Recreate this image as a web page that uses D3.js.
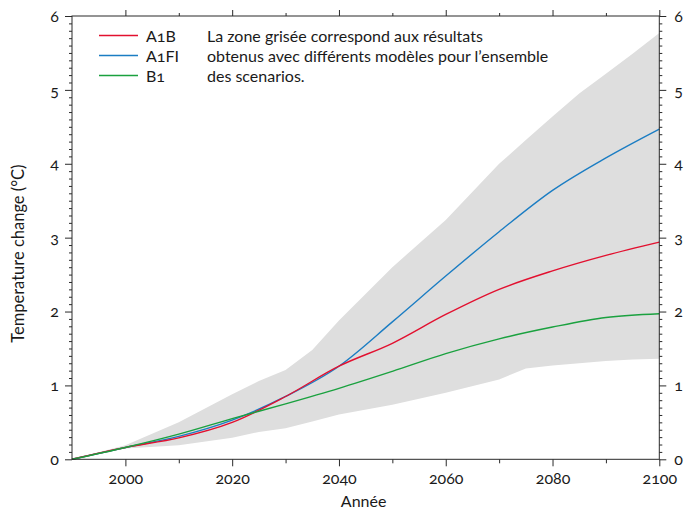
<!DOCTYPE html>
<html>
<head>
<meta charset="utf-8">
<script src="https://cdn.jsdelivr.net/npm/d3@7"></script>
<style>
  body { margin: 0; background: #fff; }
  text { font-family: Lato, "Open Sans", sans-serif; fill: #1a1a1a; font-variant-numeric: oldstyle-nums; }
</style>
</head>
<body>
<svg id="chart" width="698" height="512"></svg>
<script>
// Projected global mean temperature change (°C) per SRES scenario
const years = [1990, 2000, 2010, 2020, 2030, 2040, 2050, 2060, 2070, 2080, 2090, 2100];
const a1b  = [0, 0.16, 0.29, 0.50, 0.85, 1.26, 1.57, 1.96, 2.30, 2.55, 2.76, 2.94];
const a1fi = [0, 0.16, 0.31, 0.53, 0.85, 1.26, 1.86, 2.48, 3.08, 3.64, 4.08, 4.47];
const b1   = [0, 0.16, 0.34, 0.55, 0.75, 0.96, 1.19, 1.43, 1.63, 1.79, 1.92, 1.97];

// Envelope of all models and scenarios
const bandYears = [1990, 2000, 2010, 2020, 2025, 2030, 2035, 2040, 2050, 2060, 2070, 2075, 2080, 2085, 2090, 2095, 2100];
const bandUpper = [0, 0.19, 0.50, 0.88, 1.06, 1.21, 1.48, 1.88, 2.60, 3.24, 4.00, 4.32, 4.64, 4.95, 5.22, 5.49, 5.77];
const bandLower = [0, 0.145, 0.19, 0.29, 0.37, 0.42, 0.51, 0.605, 0.74, 0.90, 1.08, 1.23, 1.27, 1.30, 1.33, 1.35, 1.36];

const seriesNames = ["A1B", "A1FI", "B1"];
const seriesColors = ["#e2102f", "#1b7dc3", "#1aa13f"];
const xMajorTicks = [2000, 2020, 2040, 2060, 2080, 2100];
const xMinorTicks = [2010, 2030, 2050, 2070, 2090];
const yMajorTicks = [0, 1, 2, 3, 4, 5, 6];
const noteLines = [
  "La zone grisée correspond aux résultats",
  "obtenus avec différents modèles pour l’ensemble",
  "des scenarios."
];

const svg = d3.select("#chart");
const x = d3.scaleLinear().domain([1990, 2100]).range([72, 659.3]);
const y = d3.scaleLinear().domain([0, 6]).range([459.3, 16]);
const [x0, x1] = x.range();
const [yB, yT] = y.range();

const yMinorTicks = d3.range(1, 60).filter(i => i % 10 !== 0).map(i => i / 10);

// shaded envelope
const band = bandYears.map((yr, i) => ({ yr, lo: bandLower[i], hi: bandUpper[i] }));
svg.append("path")
  .datum(band)
  .attr("fill", "#dedede")
  .attr("d", d3.area().x(d => x(d.yr)).y0(d => y(d.lo)).y1(d => y(d.hi)));

// scenario curves (A1FI drawn first, then A1B, then B1 on top)
const series = [a1b, a1fi, b1];
const line = d3.line().curve(d3.curveMonotoneX).x(d => x(d[0])).y(d => y(d[1]));
[1, 0, 2].forEach(k => {
  svg.append("path")
    .datum(years.map((yr, i) => [yr, series[k][i]]))
    .attr("fill", "none")
    .attr("stroke", seriesColors[k])
    .attr("stroke-width", 1.4)
    .attr("stroke-linejoin", "round")
    .attr("d", line);
});

// axes
function styleAxis(g) {
  g.select(".domain").remove();
  g.selectAll("line").attr("stroke", "#2a2a2a").attr("stroke-width", 1);
  g.selectAll("text").attr("font-size", 16).attr("fill", "#1a1a1a")
    .style("font-family", "Lato, 'Open Sans', sans-serif");
}

// bottom
svg.append("g").attr("transform", `translate(0,${yB})`)
  .call(d3.axisBottom(x).tickValues(xMajorTicks).tickSize(7).tickPadding(6).tickFormat(d3.format("d")))
  .call(styleAxis);
svg.append("g").attr("transform", `translate(0,${yB})`)
  .call(d3.axisBottom(x).tickValues(xMinorTicks).tickSize(4).tickFormat(""))
  .call(styleAxis);
// top
svg.append("g").attr("transform", `translate(0,${yT})`)
  .call(d3.axisTop(x).tickValues(xMajorTicks).tickSize(6).tickFormat(""))
  .call(styleAxis);
svg.append("g").attr("transform", `translate(0,${yT})`)
  .call(d3.axisTop(x).tickValues(xMinorTicks).tickSize(3).tickFormat(""))
  .call(styleAxis);
// left
svg.append("g").attr("transform", `translate(${x0},0)`)
  .call(d3.axisLeft(y).tickValues(yMajorTicks).tickSize(7).tickPadding(6).tickFormat(d3.format("d")))
  .call(styleAxis);
svg.append("g").attr("transform", `translate(${x0},0)`)
  .call(d3.axisLeft(y).tickValues(yMinorTicks).tickSize(3).tickFormat(""))
  .call(styleAxis);
// right
svg.append("g").attr("transform", `translate(${x1},0)`)
  .call(d3.axisRight(y).tickValues(yMajorTicks).tickSize(7).tickPadding(8).tickFormat(d3.format("d")))
  .call(styleAxis);
svg.append("g").attr("transform", `translate(${x1},0)`)
  .call(d3.axisRight(y).tickValues(yMinorTicks).tickSize(3).tickFormat(""))
  .call(styleAxis);

// frame
svg.append("rect")
  .attr("x", x0).attr("y", yT)
  .attr("width", x1 - x0).attr("height", yB - yT)
  .attr("fill", "none").attr("stroke", "#2a2a2a").attr("stroke-width", 1);

// axis titles
svg.append("text")
  .attr("x", (x0 + x1) / 2 - 2).attr("y", 507)
  .attr("text-anchor", "middle").attr("font-size", 16)
  .text("Année");
svg.append("text")
  .attr("transform", `translate(24,${(yT + yB) / 2 + 16}) rotate(-90)`)
  .attr("text-anchor", "middle").attr("font-size", 16.5)
  .text("Temperature change (°C)");

// legend
const legend = svg.append("g");
seriesNames.forEach((name, i) => {
  const by = 41.5 + i * 20;
  legend.append("line")
    .attr("x1", 99).attr("x2", 138)
    .attr("y1", by - 6).attr("y2", by - 6)
    .attr("stroke", seriesColors[i]).attr("stroke-width", 1.4);
  legend.append("text")
    .attr("x", 146).attr("y", by).attr("font-size", 16)
    .text(name);
});
noteLines.forEach((t, i) => {
  legend.append("text")
    .attr("x", 207).attr("y", 41.5 + i * 20).attr("font-size", 16)
    .text(t);
});
</script>
</body>
</html>
